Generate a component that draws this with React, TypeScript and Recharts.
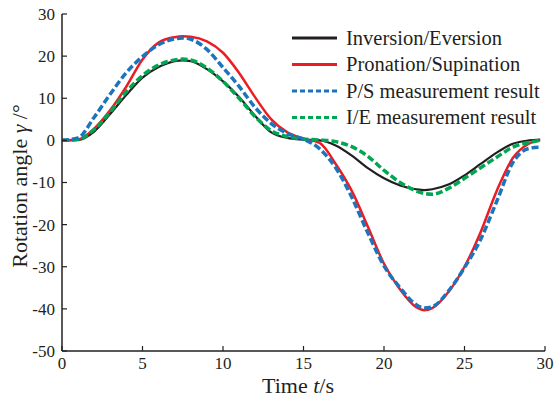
import React from 'react';
import { LineChart, Line, XAxis, YAxis, Legend } from 'recharts';

const times = [0, 1, 2, 3, 4, 5, 6, 7, 7.5, 8, 9, 10, 11, 12, 13, 14, 15, 16, 17, 18, 19, 20, 21, 22, 22.5, 23, 24, 25, 26, 27, 28, 29, 29.7];

const inversionEversion = [0, 0.1, 2.1, 6.3, 10.8, 14.9, 17.4, 18.8, 19.0, 18.8, 16.9, 14.0, 10.3, 5.8, 1.9, 0.6, 0.2, 0, -1.2, -3.6, -6.6, -9.0, -10.7, -11.6, -11.8, -11.6, -10.5, -8.3, -5.6, -2.9, -0.8, 0, 0.2];

const pronationSupination = [0, 0.2, 2.8, 7.2, 12.8, 19.2, 23.2, 24.5, 24.7, 24.6, 23.5, 20.8, 16.0, 10.2, 5.0, 1.9, 0.4, -0.6, -5.6, -12.0, -20.5, -29.3, -35.4, -39.6, -40.3, -39.8, -36.0, -30.0, -21.8, -12.0, -4.2, -0.8, 0];

const psMeasured = [0, 0.6, 5.5, 11.0, 16.1, 19.9, 22.7, 24.1, 24.3, 24.0, 21.6, 17.3, 12.8, 7.8, 4.0, 1.6, 0.3, -2.0, -6.5, -13.5, -22.0, -29.8, -35.0, -39.0, -39.8, -39.5, -35.8, -30.2, -23.5, -14.5, -5.3, -1.9, -1.6];

const ieMeasured = [0, 0.2, 2.6, 6.8, 11.6, 15.4, 17.9, 19.1, 19.3, 19.1, 17.2, 14.0, 10.0, 5.6, 2.3, 0.9, 0.3, 0.1, -0.3, -1.5, -3.8, -7.1, -10.0, -12.0, -12.6, -12.8, -11.4, -9.0, -6.5, -4.0, -1.6, -0.5, 0];

const xTicks = [0, 5, 10, 15, 20, 25, 30];
const yTicks = [-50, -40, -30, -20, -10, 0, 10, 20, 30];

const seriesNames = ['Inversion/Eversion', 'Pronation/Supination', 'P/S measurement result', 'I/E measurement result'];

const data = times.map((t, i) => ({
  t,
  ie: inversionEversion[i],
  ps: pronationSupination[i],
  psm: psMeasured[i],
  iem: ieMeasured[i],
}));

const FONT = '"Liberation Serif", "Times New Roman", Times, serif';
const INK = '#231f20';
const RED = '#ed1c24';
const BLUE = '#1c75bc';
const GREEN = '#00a651';

const legendItems = [
  { name: seriesNames[0], color: INK, dash: undefined as string | undefined },
  { name: seriesNames[1], color: RED, dash: undefined as string | undefined },
  { name: seriesNames[2], color: BLUE, dash: '5 3' },
  { name: seriesNames[3], color: GREEN, dash: '5 3' },
];

function LegendContent() {
  return (
    <svg width={266} height={110} style={{ display: 'block', overflow: 'visible' }}>
      {legendItems.map((it, i) => (
        <g key={i}>
          <line x1={4} x2={49} y1={12 + 26.5 * i} y2={12 + 26.5 * i} stroke={it.color} strokeWidth={3} strokeDasharray={it.dash} />
          <text x={58} y={12 + 26.5 * i} dy="0.33em" fontFamily={FONT} fontSize={20.5} fill={INK}>
            {it.name}
          </text>
        </g>
      ))}
    </svg>
  );
}

function YTitle() {
  const cx = 27;
  const cy = 186;
  return (
    <text transform={`rotate(-90, ${cx}, ${cy})`} x={cx} y={cy} textAnchor="middle" fontFamily={FONT} fontSize={22} fill={INK}>
      Rotation angle  <tspan fontStyle="italic">γ</tspan> /°
    </text>
  );
}

function XTitle() {
  return (
    <text x={298} y={393} textAnchor="middle" fontFamily={FONT} fontSize={22} fill={INK}>
      Time <tspan fontStyle="italic">t</tspan>/s
    </text>
  );
}

function XTick(props: any) {
  const { x, y, payload } = props;
  return (
    <text x={x} y={y} dy="0.71em" textAnchor="middle" fontFamily={FONT} fontSize={17} fill={INK}>
      {payload.value}
    </text>
  );
}

function YTick(props: any) {
  const { x, y, payload } = props;
  return (
    <text x={x} y={y} dy="0.35em" textAnchor="end" fontFamily={FONT} fontSize={17} fill={INK}>
      {payload.value}
    </text>
  );
}

export default function App() {
  return (
    <div style={{ width: 554, height: 398 }}>
      <style>{'html,body{margin:0;padding:0;overflow:hidden;}'}</style>
      <LineChart width={554} height={398} data={data} margin={{ top: 14, right: 9, bottom: 0, left: 0 }}>
        <XAxis
          dataKey="t"
          type="number"
          domain={[0, 30]}
          ticks={xTicks}
          allowDataOverflow
          height={47}
          tickSize={-5}
          tickMargin={11}
          tick={<XTick />}
          axisLine={{ stroke: INK, strokeWidth: 1.5 }}
          tickLine={{ stroke: INK, strokeWidth: 1.2 }}
          interval={0}
          label={<XTitle />}
        />
        <YAxis
          type="number"
          domain={[-50, 30]}
          ticks={yTicks}
          width={62}
          tickSize={-5}
          tickMargin={12}
          tick={<YTick />}
          axisLine={{ stroke: INK, strokeWidth: 1.5 }}
          tickLine={{ stroke: INK, strokeWidth: 1.2 }}
          interval={0}
          label={<YTitle />}
        />
        <Legend
          layout="vertical"
          align="center"
          verticalAlign="middle"
          content={<LegendContent />}
          wrapperStyle={{ top: 26, left: 288, width: 266, height: 110 }}
        />
        <Line type="monotone" dataKey="ie" name={seriesNames[0]} stroke={INK} strokeWidth={2.2} dot={false} isAnimationActive={false} />
        <Line type="monotone" dataKey="ps" name={seriesNames[1]} stroke={RED} strokeWidth={2.5} dot={false} isAnimationActive={false} />
        <Line type="monotone" dataKey="iem" name={seriesNames[3]} stroke={GREEN} strokeWidth={3.5} strokeDasharray="7 3" dot={false} isAnimationActive={false} />
        <Line type="monotone" dataKey="psm" name={seriesNames[2]} stroke={BLUE} strokeWidth={3.5} strokeDasharray="7 3" dot={false} isAnimationActive={false} />
      </LineChart>
    </div>
  );
}
